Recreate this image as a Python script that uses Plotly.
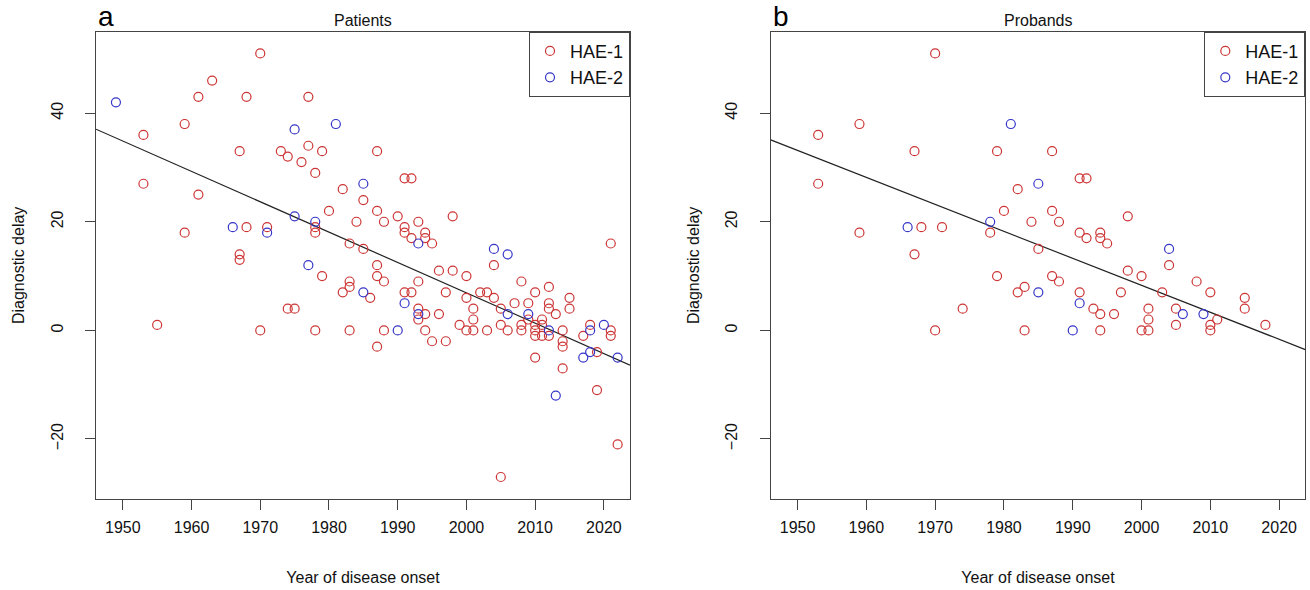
import numpy as np
import plotly.graph_objects as go

# ---------------- data ----------------
# Panel a: Patients
pat_hae1_year = [1953, 1953, 1955, 1959, 1959, 1961, 1961, 1963, 1967, 1967, 1967, 1968, 1968, 1970, 1970,
                 1971, 1973, 1974, 1974, 1975, 1976, 1977, 1977, 1978, 1978, 1978, 1978, 1979, 1979, 1980,
                 1982, 1982, 1983, 1983, 1983, 1983, 1984, 1985, 1985, 1986, 1987, 1987, 1987, 1987, 1987,
                 1988, 1988, 1988, 1990, 1991, 1991, 1991, 1991, 1992, 1992, 1992, 1993, 1993, 1993, 1993,
                 1994, 1994, 1994, 1994, 1995, 1995, 1996, 1996, 1997, 1997, 1998, 1998, 1999, 2000, 2000,
                 2000, 2001, 2001, 2001, 2002, 2003, 2003, 2004, 2004, 2005, 2005, 2005, 2006, 2007, 2008,
                 2008, 2008, 2009, 2009, 2010, 2010, 2010, 2010, 2010, 2011, 2011, 2011, 2012, 2012, 2012,
                 2012, 2013, 2014, 2014, 2014, 2014, 2015, 2015, 2017, 2018, 2019, 2019, 2021, 2021, 2021,
                 2022]
pat_hae1_delay = [36, 27, 1, 38, 18, 43, 25, 46, 33, 14, 13, 43, 19, 51, 0,
                  19, 33, 32, 4, 4, 31, 43, 34, 29, 19, 18, 0, 33, 10, 22,
                  26, 7, 16, 9, 8, 0, 20, 24, 15, 6, 33, 22, 12, 10, -3,
                  20, 9, 0, 21, 28, 19, 18, 7, 28, 17, 7, 20, 9, 4, 2,
                  18, 17, 3, 0, 16, -2, 11, 3, 7, -2, 21, 11, 1, 10, 6,
                  0, 4, 2, 0, 7, 7, 0, 12, 6, 4, 1, -27, 0, 5, 9,
                  1, 0, 5, 2, 7, 1, 0, -1, -5, 2, 1, -1, 8, 5, 4,
                  -1, 3, 0, -2, -3, -7, 6, 4, -1, 1, -4, -11, 16, 0, -1,
                  -21]
pat_hae2_year = [1949, 1966, 1971, 1975, 1975, 1977, 1978, 1981, 1985, 1985, 1990, 1991, 1993, 1993,
                 2004, 2006, 2006, 2009, 2012, 2013, 2017, 2018, 2018, 2020, 2022]
pat_hae2_delay = [42, 19, 18, 37, 21, 12, 20, 38, 27, 7, 0, 5, 16, 3,
                  15, 14, 3, 3, 0, -12, -5, 0, -4, 1, -5]

# Panel b: Probands
prob_hae1_year = [1953, 1953, 1959, 1959, 1967, 1967, 1968, 1970, 1970, 1971, 1974, 1978, 1979, 1979, 1980,
                  1982, 1982, 1983, 1983, 1984, 1985, 1987, 1987, 1987, 1988, 1988, 1991, 1991, 1991, 1992,
                  1992, 1993, 1994, 1994, 1994, 1994, 1995, 1996, 1997, 1998, 1998, 2000, 2000, 2001, 2001,
                  2001, 2003, 2004, 2005, 2005, 2008, 2010, 2010, 2010, 2011, 2015, 2015, 2018]
prob_hae1_delay = [36, 27, 38, 18, 33, 14, 19, 51, 0, 19, 4, 18, 33, 10, 22,
                   26, 7, 8, 0, 20, 15, 33, 22, 10, 20, 9, 28, 18, 7, 28,
                   17, 4, 18, 17, 3, 0, 16, 3, 7, 21, 11, 10, 0, 4, 2,
                   0, 7, 12, 4, 1, 9, 7, 1, 0, 2, 6, 4, 1]
prob_hae2_year = [1966, 1978, 1981, 1985, 1985, 1990, 1991, 2004, 2006, 2009]
prob_hae2_delay = [19, 20, 38, 27, 7, 0, 5, 15, 3, 3]

# Linear-regression lines: slope per year and fitted delay at 1985
fit_slope = [-0.559, -0.497]
fit_at_1985 = [15.3, 15.75]
fit_ref_year = 1985

x_tick_vals = [1950, 1960, 1970, 1980, 1990, 2000, 2010, 2020]
y_tick_vals = [-20, 0, 20, 40]
x_range = [1946.1, 2023.8]
y_range = [-31.05, 55.0]

panel_titles = ["Patients", "Probands"]
panel_letters = ["a", "b"]
series_names = ["HAE-1", "HAE-2"]

RED = "#CD3535"
BLUE = "#3535C8"
FONT = "Liberation Sans, Arial, sans-serif"

W, H = 1310, 590
dom_x = [[96 / W, 630 / W], [770.7 / W, 1305.3 / W]]
dom_y = [91 / H, 558.3 / H]

fig = go.Figure()

panels = [
    (pat_hae1_year, pat_hae1_delay, pat_hae2_year, pat_hae2_delay),
    (prob_hae1_year, prob_hae1_delay, prob_hae2_year, prob_hae2_delay),
]

for i, (x1, y1, x2, y2) in enumerate(panels):
    xa = "x" if i == 0 else "x2"
    ya = "y" if i == 0 else "y2"
    leg = "legend" if i == 0 else "legend2"
    lx = np.array(x_range)
    ly = fit_at_1985[i] + fit_slope[i] * (lx - fit_ref_year)
    fig.add_trace(go.Scatter(x=lx, y=ly, mode="lines",
                             line=dict(color="#222222", width=1.2),
                             xaxis=xa, yaxis=ya, showlegend=False, hoverinfo="skip"))
    for name, xx, yy, col in [(series_names[0], x1, y1, RED), (series_names[1], x2, y2, BLUE)]:
        fig.add_trace(go.Scatter(x=xx, y=yy, mode="markers", name=name,
                                 marker=dict(symbol="circle-open", size=9, color=col,
                                             line=dict(width=1.2, color=col)),
                                 xaxis=xa, yaxis=ya, legend=leg))

axis_common = dict(showline=True, mirror=True, linecolor="#444444", linewidth=1,
                   ticks="outside", ticklen=10, tickcolor="#444444", tickwidth=1,
                   showgrid=False, zeroline=False,
                   tickfont=dict(family=FONT, size=16, color="#111111"))

layout = dict(
    width=W, height=H, plot_bgcolor="white", paper_bgcolor="white",
    margin=dict(l=0, r=0, t=0, b=0),
    font=dict(family=FONT, color="#111111"),
)
for i in range(2):
    sx = "" if i == 0 else "2"
    layout["xaxis" + sx] = dict(axis_common, domain=dom_x[i], range=x_range, tickvals=x_tick_vals,
                                anchor="y" + sx, ticklabelstandoff=4,
                                title=dict(text="Year of disease onset", standoff=36,
                                           font=dict(family=FONT, size=16, color="#111111")))
    layout["yaxis" + sx] = dict(axis_common, domain=dom_y, range=y_range, tickvals=y_tick_vals,
                                anchor="x" + sx, tickangle=-90, ticklabelstandoff=16,
                                title=dict(text="Diagnostic delay", standoff=19,
                                           font=dict(family=FONT, size=16, color="#111111")))

leg_common = dict(xanchor="right", yanchor="top", y=dom_y[1], bgcolor="white",
                  bordercolor="#444444", borderwidth=1, font=dict(family=FONT, size=18, color="#111111"),
                  itemwidth=30, tracegroupgap=0)
layout["legend"] = dict(leg_common, x=dom_x[0][1])
layout["legend2"] = dict(leg_common, x=dom_x[1][1])

annotations = []
for i in range(2):
    cx = (dom_x[i][0] + dom_x[i][1]) / 2
    annotations.append(dict(text=panel_titles[i], x=cx, y=dom_y[1], xref="paper", yref="paper",
                            xanchor="center", yanchor="bottom", showarrow=False, yshift=1,
                            font=dict(family=FONT, size=16, color="#111111")))
    annotations.append(dict(text=panel_letters[i], x=dom_x[i][0], y=dom_y[1], xref="paper", yref="paper",
                            xanchor="left", yanchor="bottom", showarrow=False, yshift=-2,
                            font=dict(family=FONT, size=28, color="#000000")))
layout["annotations"] = annotations
layout["showlegend"] = True

fig.update_layout(**layout)
fig.write_html("out.html", config={"displayModeBar": False},
               post_script="document.body.style.margin='0px';")
